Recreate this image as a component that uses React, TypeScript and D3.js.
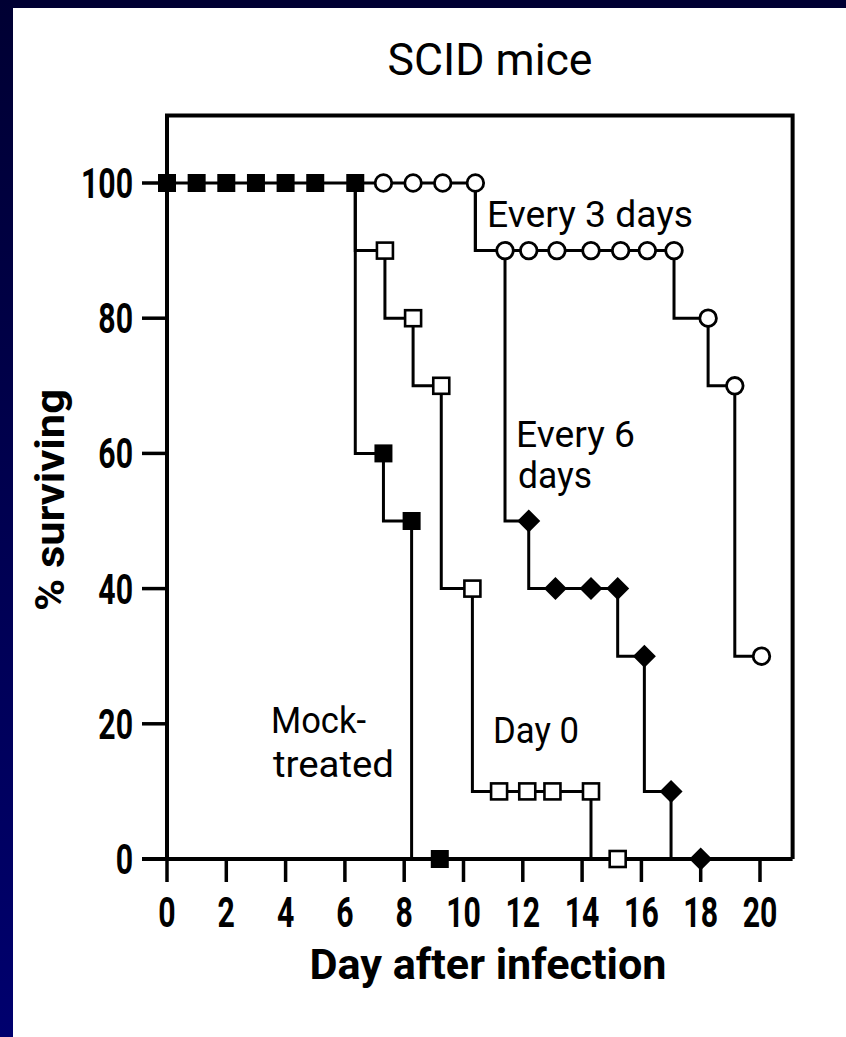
import React from 'react';
import * as d3 from 'd3';

const W = 846;
const H = 1037;

const xTicks = [0, 2, 4, 6, 8, 10, 12, 14, 16, 18, 20];
const yTicks = [0, 20, 40, 60, 80, 100];

const mockDays = [0, 1, 2, 3, 4, 5, 6.35, 7.3, 8.25, 9.2];
const mockSurv = [100, 100, 100, 100, 100, 100, 100, 60, 50, 0];

const day0Days = [6.35, 7.35, 8.3, 9.25, 10.3, 11.2, 12.15, 13.0, 14.3, 15.2];
const day0Surv = [100, 90, 80, 70, 40, 10, 10, 10, 10, 0];

const every3Days = [6.35, 7.3, 8.3, 9.3, 10.4, 11.4, 12.2, 13.15, 14.3, 15.3, 16.2, 17.1, 18.25, 19.15, 20.05];
const every3Surv = [100, 100, 100, 100, 100, 90, 90, 90, 90, 90, 90, 90, 80, 70, 30];

const every6Days = [10.4, 11.4, 12.2, 13.1, 14.3, 15.2, 16.1, 17.0, 18.0];
const every6Surv = [100, 90, 50, 40, 40, 40, 30, 10, 0];

const FONT = "Roboto, 'DejaVu Sans', sans-serif";

type Series = { days: number[]; surv: number[]; marker: 'fsq' | 'osq' | 'ocirc' | 'fdia'; first: number };

const series: Series[] = [
  { days: day0Days, surv: day0Surv, marker: 'osq', first: 1 },
  { days: every3Days, surv: every3Surv, marker: 'ocirc', first: 1 },
  { days: every6Days, surv: every6Surv, marker: 'fdia', first: 2 },
  { days: mockDays, surv: mockSurv, marker: 'fsq', first: 0 },
];

function T(props: {
  x: number;
  y: number;
  size: number;
  weight?: number | string;
  anchor?: 'start' | 'middle' | 'end';
  sx?: number;
  len?: number;
  rotate?: number;
  children: React.ReactNode;
}) {
  const { x, y, size, weight = 400, anchor = 'start', sx = 1, len, rotate = 0, children } = props;
  return (
    <text
      transform={`translate(${x},${y}) rotate(${rotate}) scale(${sx},1)`}
      fontSize={size}
      fontWeight={weight}
      textAnchor={anchor}
      fill="#000"
      {...(len ? { textLength: len, lengthAdjust: 'spacingAndGlyphs' } : {})}
    >
      {children}
    </text>
  );
}

export default function App() {
  const x = d3.scaleLinear().domain([0, 20]).range([167, 760]);
  const y = d3.scaleLinear().domain([0, 100]).range([859, 183]);
  const xEnd = x(21.1);
  const yTop = y(110);

  const line = d3
    .line<[number, number]>()
    .x((d) => x(d[0]))
    .y((d) => y(d[1]))
    .curve(d3.curveStepBefore);

  const marker = (kind: string, cx: number, cy: number, key: string) => {
    if (kind === 'fsq') return <rect key={key} x={cx - 9} y={cy - 9} width={18} height={18} fill="#000" />;
    if (kind === 'osq')
      return <rect key={key} x={cx - 8} y={cy - 8} width={16} height={16} fill="#fff" stroke="#000" strokeWidth={2.6} />;
    if (kind === 'ocirc') return <circle key={key} cx={cx} cy={cy} r={8.3} fill="#fff" stroke="#000" strokeWidth={2.8} />;
    const s = 11.5;
    return <path key={key} d={`M${cx},${cy - s}L${cx + s},${cy}L${cx},${cy + s}L${cx - s},${cy}Z`} fill="#000" />;
  };

  return (
    <svg width={W} height={H} style={{ position: 'absolute', left: 0, top: 0, background: '#fff' }} fontFamily={FONT}>
      <defs>
        <linearGradient id="navy" x1="0" y1="0" x2="0" y2="1">
          <stop offset="0" stopColor="#000033" />
          <stop offset="1" stopColor="#00006e" />
        </linearGradient>
      </defs>
      <rect x={0} y={0} width={W} height={H} fill="#ffffff" />
      <rect x={0} y={0} width={W} height={8} fill="#000033" />
      <rect x={0} y={0} width={13} height={H} fill="url(#navy)" />

      {/* title */}
      <T x={490} y={75} size={44} weight={400} anchor="middle" len={205}>SCID mice</T>

      {/* frame */}
      <path d={`M${x(0)},${y(0)}V${yTop}H${xEnd}V${y(0)}`} fill="none" stroke="#000" strokeWidth={4} />
      <line x1={x(0) - 25} x2={xEnd} y1={y(0)} y2={y(0)} stroke="#000" strokeWidth={4} />

      {/* x ticks */}
      {xTicks.map((t) => (
        <g key={'xt' + t}>
          <line x1={x(t)} x2={x(t)} y1={y(0)} y2={y(0) + 23} stroke="#000" strokeWidth={3.5} />
          <T x={x(t)} y={927} size={42} weight={700} anchor="middle" sx={0.72}>{t}</T>
        </g>
      ))}
      {/* y ticks */}
      {yTicks.map((t) => (
        <g key={'yt' + t}>
          <line x1={x(0) - 25} x2={x(0)} y1={y(t)} y2={y(t)} stroke="#000" strokeWidth={3.5} />
          <T x={133} y={y(t) + 15} size={42} weight={700} anchor="end" sx={0.72}>{t}</T>
        </g>
      ))}

      {/* axis titles */}
      <T x={488} y={979} size={42} weight={700} anchor="middle" len={357}>Day after infection</T>
      <T x={64} y={500} size={40} weight={700} anchor="middle" rotate={-90} len={222}>% surviving</T>

      {/* curves */}
      {series.map((s, i) => (
        <path
          key={'l' + i}
          d={line(s.days.map((d, j) => [d, s.surv[j]] as [number, number])) || ''}
          fill="none"
          stroke="#000"
          strokeWidth={3}
        />
      ))}
      {series.map((s, i) =>
        s.days.map((d, j) => (j >= s.first ? marker(s.marker, x(d), y(s.surv[j]), `m${i}-${j}`) : null))
      )}

      {/* annotations */}
      <T x={487} y={227} size={36} weight={400} len={206}>Every 3 days</T>
      <T x={516} y={447} size={36} weight={400} len={119}>Every 6</T>
      <T x={518} y={488} size={36} weight={400} len={74}>days</T>
      <T x={271} y={733} size={36} weight={400} len={95}>Mock-</T>
      <T x={273} y={777} size={36} weight={400} len={121}>treated</T>
      <T x={493} y={743} size={36} weight={400} len={86}>Day 0</T>
    </svg>
  );
}
